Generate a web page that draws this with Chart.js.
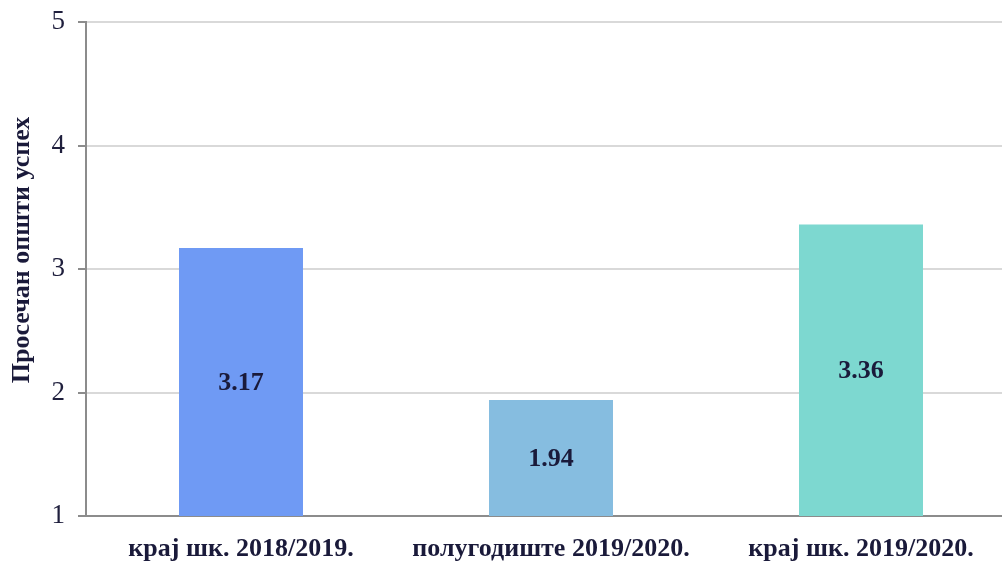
<!DOCTYPE html>
<html><head><meta charset="utf-8">
<script src="https://cdn.jsdelivr.net/npm/chart.js@4/dist/chart.umd.min.js"></script>
<style>html,body{margin:0;padding:0;background:#fff;overflow:hidden}#wrap{width:1016px;height:561px;position:relative}</style>
</head><body><div id="wrap"><canvas id="c"></canvas></div>
<script>
const categories = ["крај шк. 2018/2019.", "полугодиште 2019/2020.", "крај шк. 2019/2020."];
const values = [3.17, 1.94, 3.36];
const barColors = ["#6f9af4", "#86bde0", "#7dd8d0"];
const yTicks = [1, 2, 3, 4, 5];
const yTitle = "Просечан општи успех";

const labelPlugin = {
  id: 'barLabels',
  afterDatasetsDraw(chart) {
    const ctx = chart.ctx;
    const meta = chart.getDatasetMeta(0);
    const yScale = chart.scales.y;
    const bottom = yScale.getPixelForValue(yScale.min);
    ctx.save();
    ctx.font = 'bold 26px "Liberation Serif", serif';
    ctx.fillStyle = '#1a1a3a';
    ctx.textAlign = 'center';
    ctx.textBaseline = 'middle';
    meta.data.forEach((bar, i) => {
      ctx.fillText(values[i].toFixed(2), bar.x, (bar.y + bottom) / 2 + 1);
    });
    // y axis title
    const ca = chart.chartArea;
    ctx.translate(22, (ca.top + ca.bottom) / 2 - 19);
    ctx.rotate(-Math.PI / 2);
    ctx.fillText(yTitle, 0, 0);
    ctx.restore();
  }
};

new Chart(document.getElementById('c'), {
  type: 'bar',
  data: {
    labels: categories,
    datasets: [{ data: values, backgroundColor: barColors, barPercentage: 0.4, categoryPercentage: 1.0 }]
  },
  options: {
    responsive: true, maintainAspectRatio: false, animation: false,
    layout: { padding: { top: 22, left: 0, right: 0, bottom: 0 } },
    plugins: { legend: { display: false }, tooltip: { enabled: false } },
    scales: {
      x: {
        afterFit(scale) { scale.height = 45; },
        grid: { display: false },
        border: { display: true, color: '#8c8c8c', width: 2 },
        ticks: { color: '#1a1a3a', font: { family: '"Liberation Serif", serif', size: 26, weight: 'bold' }, padding: 10, maxRotation: 0 }
      },
      y: {
        min: 1, max: 5,
        afterFit(scale) { scale.width = 86; scale.paddingTop = 0; scale.paddingBottom = 0; },
        afterBuildTicks(axis) { axis.ticks = yTicks.map(v => ({ value: v })); },
        grid: { color: '#d9d9d9', lineWidth: 2, tickLength: 8, tickColor: '#8c8c8c' },
        border: { display: true, color: '#8c8c8c', width: 2 },
        ticks: { color: '#1f1f3d', font: { family: '"Liberation Serif", serif', size: 27 }, padding: 13 },
        title: { display: false }
      }
    }
  },
  plugins: [labelPlugin]
});
</script></body></html>
